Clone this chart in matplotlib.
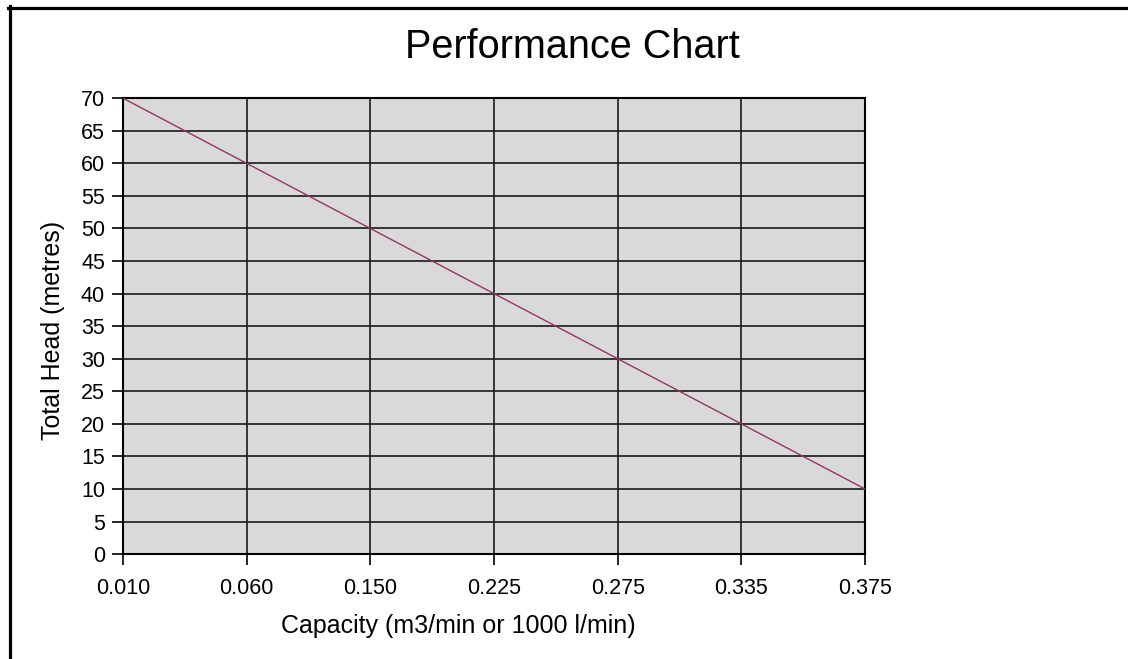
import numpy as np
import matplotlib
matplotlib.use('Agg')
import matplotlib.pyplot as plt
from matplotlib.lines import Line2D

#---------------------------------------------------#
# Pump performance data          #
#---------------------------------------------------#
capacity  = ['0.010', '0.060', '0.150', '0.225', '0.275', '0.335', '0.375']
totalHead = [70, 60, 50, 40, 30, 20, 10]
headTicks = list(range(0, 75, 5))

plt.rcParams['font.family'] = ['Liberation Sans', 'DejaVu Sans']

fig = plt.figure(figsize = (11.28, 6.59), dpi = 100)
ax1 = fig.add_axes([0.109, 0.159, 0.658, 0.692])
ax1.set_facecolor('#d9d9d9')

xPos = np.arange(len(capacity))
ax1.plot(xPos, totalHead, color = '#993366', linewidth = 1.0, zorder = 3)

ax1.set_xlim(0, len(capacity) - 1)
ax1.set_ylim(0, 70)
ax1.set_xticks(xPos)
ax1.set_xticklabels(capacity)
ax1.set_yticks(headTicks)
ax1.tick_params(axis = 'both', direction = 'out', length = 8, width = 1.2,
                labelsize = 15.5, color = 'black')
ax1.tick_params(axis = 'x', pad = 9)
ax1.tick_params(axis = 'y', pad = 5)
ax1.grid(True, color = '#1a1a1a', linewidth = 1.2)
ax1.set_axisbelow(True)
for side in ['left', 'right', 'top', 'bottom']:
  ax1.spines[side].set_color('black')
  ax1.spines[side].set_linewidth(1.5)

fig.text(0.507, 0.929, 'Performance Chart', fontsize = 28.5, ha = 'center', va = 'center')
fig.text(0.406, 0.050, 'Capacity (m3/min or 1000 l/min)', fontsize = 18, ha = 'center', va = 'center')
fig.text(0.047, 0.499, 'Total Head (metres)', fontsize = 18, ha = 'center', va = 'center', rotation = 90)

# outer frame: only left and top edges are visible
fig.add_artist(Line2D([9.5 / 1128, 9.5 / 1128], [0, 1 - 6.0 / 659], color = 'black', linewidth = 2.3, transform = fig.transFigure))
fig.add_artist(Line2D([8.0 / 1128, 1], [1 - 7.5 / 659, 1 - 7.5 / 659], color = 'black', linewidth = 2.3, transform = fig.transFigure))

plt.savefig('out.png', dpi = 100)
